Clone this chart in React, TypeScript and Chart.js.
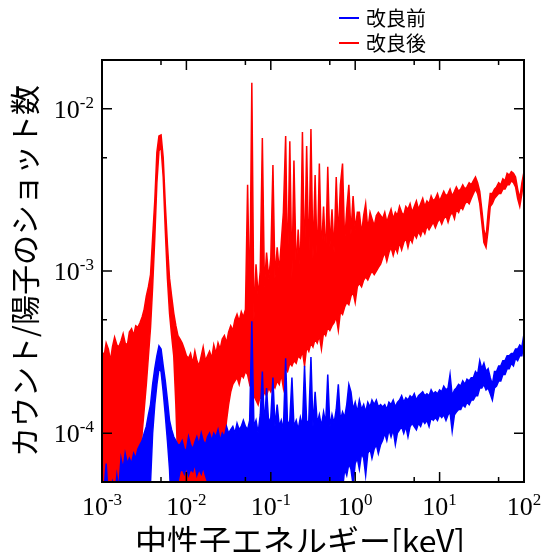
import React, { useEffect, useRef } from "react";
import { Chart, registerables } from "chart.js";

Chart.register(...registerables);

// Energy bins (keV), shared by both spectra
const energyKeV = [
  1.00e-3, 1.06e-3, 1.12e-3, 1.19e-3, 1.26e-3, 1.33e-3, 1.41e-3, 1.50e-3, 1.58e-3, 1.68e-3,
  1.78e-3, 1.88e-3, 2.00e-3, 2.11e-3, 2.24e-3, 2.37e-3, 2.51e-3, 2.66e-3, 2.82e-3, 2.99e-3,
  3.16e-3, 3.35e-3, 3.55e-3, 3.76e-3, 3.98e-3, 4.22e-3, 4.47e-3, 4.73e-3, 5.01e-3, 5.31e-3,
  5.62e-3, 5.96e-3, 6.31e-3, 6.68e-3, 7.08e-3, 7.50e-3, 7.94e-3, 8.41e-3, 8.91e-3, 9.44e-3,
  1.00e-2, 1.06e-2, 1.12e-2, 1.19e-2, 1.26e-2, 1.33e-2, 1.41e-2, 1.50e-2, 1.58e-2, 1.68e-2,
  1.78e-2, 1.88e-2, 2.00e-2, 2.11e-2, 2.24e-2, 2.37e-2, 2.51e-2, 2.66e-2, 2.82e-2, 2.99e-2,
  3.16e-2, 3.35e-2, 3.55e-2, 3.76e-2, 3.98e-2, 4.22e-2, 4.47e-2, 4.73e-2, 5.01e-2, 5.31e-2,
  5.62e-2, 5.96e-2, 6.31e-2, 6.68e-2, 7.08e-2, 7.50e-2, 7.94e-2, 8.41e-2, 8.91e-2, 9.44e-2,
  1.00e-1, 1.06e-1, 1.12e-1, 1.19e-1, 1.26e-1, 1.33e-1, 1.41e-1, 1.50e-1, 1.58e-1, 1.68e-1,
  1.78e-1, 1.88e-1, 2.00e-1, 2.11e-1, 2.24e-1, 2.37e-1, 2.51e-1, 2.66e-1, 2.82e-1, 2.99e-1,
  3.16e-1, 3.35e-1, 3.55e-1, 3.76e-1, 3.98e-1, 4.22e-1, 4.47e-1, 4.73e-1, 5.01e-1, 5.31e-1,
  5.62e-1, 5.96e-1, 6.31e-1, 6.68e-1, 7.08e-1, 7.50e-1, 7.94e-1, 8.41e-1, 8.91e-1, 9.44e-1,
  1.00, 1.06, 1.12, 1.19, 1.26, 1.33, 1.41, 1.50, 1.58, 1.68,
  1.78, 1.88, 2.00, 2.11, 2.24, 2.37, 2.51, 2.66, 2.82, 2.99,
  3.16, 3.35, 3.55, 3.76, 3.98, 4.22, 4.47, 4.73, 5.01, 5.31,
  5.62, 5.96, 6.31, 6.68, 7.08, 7.50, 7.94, 8.41, 8.91, 9.44,
  10.0, 10.6, 11.2, 11.9, 12.6, 13.3, 14.1, 15.0, 15.8, 16.8,
  17.8, 18.8, 20.0, 21.1, 22.4, 23.7, 25.1, 26.6, 28.2, 29.9,
  31.6, 33.5, 35.5, 37.6, 39.8, 42.2, 44.7, 47.3, 50.1, 53.1,
  56.2, 59.6, 63.1, 66.8, 70.8, 75.0, 79.4, 84.1, 89.1, 94.4,
  100.0,
];

// 改良前: upper and lower extent of the noisy spectrum in each bin
const beforeMax = [
  4e-5, 4.5e-5, 6.5e-5, 4e-5, 4.5e-5, 5e-5, 4e-5, 5.5e-5, 4.5e-5, 7e-5,
  6e-5, 7.5e-5, 6.5e-5, 7e-5, 6.5e-5, 7.5e-5, 7e-5, 8e-5, 8.5e-5, 9e-5,
  1.0e-4, 1.1e-4, 1.3e-4, 1.5e-4, 2.0e-4, 2.5e-4, 3.0e-4, 3.45e-4, 3.3e-4, 2.6e-4,
  2.1e-4, 1.6e-4, 1.2e-4, 1.05e-4, 9.5e-5, 9e-5, 8.5e-5, 8.5e-5, 9e-5, 8e-5,
  7.8e-5, 9.5e-5, 8.5e-5, 8e-5, 8.8e-5, 9.5e-5, 8.5e-5, 1.0e-4, 9e-5, 8.5e-5,
  9.5e-5, 1.0e-4, 9e-5, 1.0e-4, 9.5e-5, 1.05e-4, 9e-5, 1.0e-4, 9.5e-5, 1.1e-4,
  1.0e-4, 1.05e-4, 1.1e-4, 1.0e-4, 1.15e-4, 1.05e-4, 1.1e-4, 1.2e-4, 1.1e-4, 1.05e-4,
  1.2e-4, 4.9e-4, 1.1e-4, 1.2e-4, 1.0e-4, 1.3e-4, 2.4e-4, 1.1e-4, 1.9e-4, 1.15e-4,
  1.25e-4, 2.2e-4, 1.1e-4, 1.5e-4, 1.1e-4, 1.2e-4, 1.05e-4, 2.9e-4, 1.1e-4, 1.2e-4,
  2.2e-4, 1.1e-4, 1.2e-4, 1.05e-4, 1.25e-4, 1.1e-4, 2.6e-4, 1.15e-4, 1.2e-4, 2.95e-4,
  1.1e-4, 1.8e-4, 1.15e-4, 1.3e-4, 1.1e-4, 1.35e-4, 1.15e-4, 2.3e-4, 1.1e-4, 1.3e-4,
  1.15e-4, 1.4e-4, 2.0e-4, 1.2e-4, 1.35e-4, 1.25e-4, 1.5e-4, 2.0e-4, 1.8e-4, 1.4e-4,
  1.55e-4, 1.35e-4, 1.6e-4, 1.4e-4, 1.5e-4, 1.35e-4, 1.55e-4, 1.45e-4, 1.6e-4, 1.5e-4,
  1.6e-4, 1.45e-4, 1.5e-4, 1.45e-4, 1.5e-4, 1.4e-4, 1.55e-4, 1.5e-4, 1.6e-4, 1.45e-4,
  1.55e-4, 1.6e-4, 1.7e-4, 1.55e-4, 1.65e-4, 1.6e-4, 1.7e-4, 1.65e-4, 1.75e-4, 1.6e-4,
  1.7e-4, 1.75e-4, 1.8e-4, 1.7e-4, 1.75e-4, 1.7e-4, 1.85e-4, 1.75e-4, 1.8e-4, 1.75e-4,
  1.85e-4, 1.8e-4, 1.95e-4, 1.85e-4, 1.9e-4, 2.3e-4, 1.7e-4, 1.85e-4, 1.9e-4, 2.0e-4,
  1.95e-4, 2.1e-4, 2.0e-4, 2.15e-4, 2.1e-4, 2.2e-4, 2.2e-4, 2.4e-4, 2.3e-4, 2.8e-4,
  2.5e-4, 2.7e-4, 2.4e-4, 2.5e-4, 2.2e-4, 2.0e-4, 2.4e-4, 2.4e-4, 2.6e-4, 2.6e-4,
  2.8e-4, 2.8e-4, 3.0e-4, 3.0e-4, 3.1e-4, 3.1e-4, 3.3e-4, 3.3e-4, 3.5e-4, 3.4e-4,
  4.1e-4,
];
const beforeMin = [
  3e-5, 3e-5, 3e-5, 3e-5, 3e-5, 3e-5, 3e-5, 3e-5, 3e-5, 3e-5,
  3e-5, 3e-5, 3e-5, 3e-5, 3e-5, 3e-5, 3e-5, 3e-5, 3e-5, 3e-5,
  3e-5, 3e-5, 3e-5, 5e-5, 1.0e-4, 1.5e-4, 2.0e-4, 2.5e-4, 2.4e-4, 1.8e-4,
  1.3e-4, 9e-5, 6e-5, 3e-5, 3e-5, 4e-5, 5e-5, 5.8e-5, 6e-5, 5.6e-5,
  6.2e-5, 5.5e-5, 6e-5, 5.8e-5, 6.5e-5, 5.5e-5, 6e-5, 5.6e-5, 6.2e-5, 5.5e-5,
  5e-5, 3e-5, 3e-5, 3e-5, 3e-5, 3e-5, 3e-5, 3e-5, 3e-5, 3e-5,
  3e-5, 3e-5, 3e-5, 3e-5, 3e-5, 3e-5, 3e-5, 3e-5, 3e-5, 3e-5,
  3e-5, 3e-5, 3e-5, 3e-5, 3e-5, 3e-5, 3e-5, 3e-5, 3e-5, 3e-5,
  3e-5, 3e-5, 3e-5, 3e-5, 3e-5, 3e-5, 3e-5, 3e-5, 3e-5, 3e-5,
  3e-5, 3e-5, 3e-5, 3e-5, 3e-5, 3e-5, 3e-5, 3e-5, 3e-5, 3e-5,
  3e-5, 3e-5, 3e-5, 3e-5, 3e-5, 3e-5, 3e-5, 3e-5, 3e-5, 3e-5,
  3e-5, 3e-5, 4.5e-5, 5.5e-5, 4.5e-5, 6e-5, 5.5e-5, 6.5e-5, 6e-5, 4.8e-5,
  6.5e-5, 7e-5, 6e-5, 7.5e-5, 7e-5, 5.5e-5, 7.5e-5, 8e-5, 7e-5, 8e-5,
  8.5e-5, 7.5e-5, 8.5e-5, 9e-5, 1.0e-4, 9e-5, 1.05e-4, 9.5e-5, 1.05e-4, 8.5e-5,
  1.0e-4, 1.05e-4, 1.1e-4, 1.0e-4, 1.1e-4, 9.5e-5, 1.1e-4, 1.15e-4, 1.1e-4, 1.05e-4,
  1.15e-4, 1.1e-4, 1.2e-4, 1.15e-4, 1.2e-4, 1.1e-4, 1.25e-4, 1.2e-4, 1.25e-4, 1.2e-4,
  1.3e-4, 1.25e-4, 1.3e-4, 1.2e-4, 1.3e-4, 1.35e-4, 1.03e-4, 1.3e-4, 1.35e-4, 1.4e-4,
  1.4e-4, 1.5e-4, 1.45e-4, 1.55e-4, 1.5e-4, 1.6e-4, 1.6e-4, 1.7e-4, 1.7e-4, 1.9e-4,
  1.9e-4, 2.0e-4, 1.85e-4, 1.9e-4, 1.75e-4, 1.6e-4, 1.9e-4, 1.95e-4, 2.1e-4, 2.1e-4,
  2.3e-4, 2.3e-4, 2.5e-4, 2.5e-4, 2.7e-4, 2.6e-4, 2.9e-4, 2.8e-4, 3.0e-4, 3.0e-4,
  3.7e-4,
];

// 改良後: upper and lower extent of the noisy spectrum in each bin
const afterMax = [
  3.2e-4, 3.0e-4, 3.6e-4, 3.3e-4, 2.8e-4, 3.4e-4, 3.9e-4, 3.5e-4, 3.4e-4, 3.7e-4,
  4.1e-4, 3.6e-4, 3.5e-4, 4.2e-4, 4.4e-4, 4.0e-4, 4.6e-4, 4.5e-4, 4.8e-4, 5.2e-4,
  5.8e-4, 7.0e-4, 8.0e-4, 9.5e-4, 1.6e-3, 2.7e-3, 5.4e-3, 6.8e-3, 6.9e-3, 5.0e-3,
  2.6e-3, 1.45e-3, 9.0e-4, 7.0e-4, 5.5e-4, 4.6e-4, 4.0e-4, 3.8e-4, 3.6e-4, 3.3e-4,
  3.0e-4, 2.9e-4, 3.1e-4, 2.7e-4, 3.2e-4, 2.8e-4, 2.6e-4, 3.0e-4, 3.4e-4, 2.8e-4,
  3.0e-4, 3.2e-4, 2.9e-4, 3.5e-4, 3.1e-4, 3.6e-4, 3.3e-4, 3.8e-4, 4.0e-4, 3.6e-4,
  4.2e-4, 4.6e-4, 4.3e-4, 5.0e-4, 5.4e-4, 4.9e-4, 5.6e-4, 5.2e-4, 5.8e-4, 3.4e-3,
  6.0e-4, 1.45e-2, 5.0e-4, 1.1e-3, 7.0e-4, 1.0e-3, 6.6e-3, 8.0e-4, 1.3e-3, 9.0e-4,
  1.2e-3, 4.5e-3, 9.0e-4, 1.4e-3, 1.0e-3, 1.5e-3, 2.3e-3, 6.8e-3, 1.0e-3, 6.3e-3,
  9.0e-4, 4.8e-3, 1.0e-3, 1.8e-3, 1.0e-3, 7.2e-3, 1.1e-3, 5.9e-3, 1.1e-3, 7.5e-3,
  1.2e-3, 3.9e-3, 1.1e-3, 4.6e-3, 1.3e-3, 2.5e-3, 1.2e-3, 4.4e-3, 1.4e-3, 2.4e-3,
  1.3e-3, 3.8e-3, 1.6e-3, 3.4e-3, 4.6e-3, 1.5e-3, 2.4e-3, 3.4e-3, 1.7e-3, 2.9e-3,
  1.8e-3, 2.3e-3, 2.3e-3, 1.7e-3, 2.2e-3, 2.6e-3, 1.8e-3, 2.3e-3, 2.1e-3, 1.9e-3,
  2.2e-3, 2.3e-3, 2.2e-3, 2.1e-3, 2.3e-3, 2.0e-3, 2.2e-3, 2.4e-3, 2.1e-3, 2.3e-3,
  2.2e-3, 2.5e-3, 2.3e-3, 2.2e-3, 2.5e-3, 2.4e-3, 2.6e-3, 2.3e-3, 2.5e-3, 2.7e-3,
  2.4e-3, 2.6e-3, 2.8e-3, 2.5e-3, 2.7e-3, 2.6e-3, 2.9e-3, 2.7e-3, 2.8e-3, 3.0e-3,
  2.7e-3, 2.9e-3, 3.1e-3, 2.9e-3, 3.0e-3, 3.2e-3, 2.9e-3, 3.1e-3, 3.3e-3, 3.1e-3,
  3.2e-3, 3.4e-3, 3.2e-3, 3.3e-3, 3.5e-3, 3.4e-3, 3.6e-3, 3.8e-3, 3.5e-3, 3.1e-3,
  2.4e-3, 1.8e-3, 1.6e-3, 2.3e-3, 3.0e-3, 3.0e-3, 3.2e-3, 3.3e-3, 3.5e-3, 3.4e-3,
  3.7e-3, 3.6e-3, 4.0e-3, 3.9e-3, 4.1e-3, 4.0e-3, 3.8e-3, 3.2e-3, 2.8e-3, 3.5e-3,
  4.1e-3,
];
const afterMin = [
  3e-5, 3e-5, 3e-5, 3e-5, 3e-5, 3e-5, 3e-5, 3e-5, 3e-5, 3e-5,
  3e-5, 3e-5, 3e-5, 3e-5, 3e-5, 3e-5, 3e-5, 3e-5, 6e-5, 1.0e-4,
  1.4e-4, 2.0e-4, 3.0e-4, 4.5e-4, 8.0e-4, 1.6e-3, 3.5e-3, 5.5e-3, 5.8e-3, 3.8e-3,
  1.8e-3, 9.0e-4, 5.5e-4, 4.0e-4, 3.0e-4, 1.5e-4, 6e-5, 3e-5, 3e-5, 3e-5,
  3e-5, 3e-5, 3e-5, 3e-5, 3e-5, 3e-5, 3e-5, 3e-5, 3e-5, 3e-5,
  3e-5, 3e-5, 3e-5, 3e-5, 3e-5, 3e-5, 3e-5, 6e-5, 9e-5, 1.2e-4,
  1.5e-4, 1.8e-4, 2.0e-4, 2.1e-4, 2.2e-4, 2.0e-4, 2.3e-4, 2.2e-4, 2.4e-4, 2.3e-4,
  2.0e-4, 2.2e-4, 1.7e-4, 1.6e-4, 1.5e-4, 1.7e-4, 1.6e-4, 1.8e-4, 1.7e-4, 1.9e-4,
  1.8e-4, 2.0e-4, 1.9e-4, 2.1e-4, 2.0e-4, 2.3e-4, 1.9e-4, 2.5e-4, 2.4e-4, 2.7e-4,
  2.6e-4, 2.8e-4, 2.7e-4, 3.0e-4, 2.9e-4, 3.2e-4, 2.6e-4, 3.4e-4, 3.2e-4, 3.6e-4,
  3.4e-4, 3.8e-4, 3.6e-4, 4.0e-4, 3.3e-4, 4.2e-4, 4.0e-4, 4.5e-4, 4.3e-4, 4.6e-4,
  4.8e-4, 5.2e-4, 4.3e-4, 5.6e-4, 5.4e-4, 6.0e-4, 6.4e-4, 6.2e-4, 7.0e-4, 7.4e-4,
  6.4e-4, 8.0e-4, 8.4e-4, 8.0e-4, 8.8e-4, 9.2e-4, 8.8e-4, 9.5e-4, 1.0e-3, 9.5e-4,
  1.0e-3, 1.05e-3, 1.1e-3, 1.2e-3, 1.3e-3, 1.15e-3, 1.3e-3, 1.4e-3, 1.25e-3, 1.4e-3,
  1.3e-3, 1.5e-3, 1.35e-3, 1.5e-3, 1.6e-3, 1.4e-3, 1.6e-3, 1.5e-3, 1.7e-3, 1.6e-3,
  1.75e-3, 1.65e-3, 1.8e-3, 1.7e-3, 1.9e-3, 1.8e-3, 1.9e-3, 2.0e-3, 1.85e-3, 2.0e-3,
  2.1e-3, 1.95e-3, 2.1e-3, 2.2e-3, 2.0e-3, 2.2e-3, 2.3e-3, 2.1e-3, 2.4e-3, 2.3e-3,
  2.5e-3, 2.4e-3, 2.6e-3, 2.7e-3, 2.6e-3, 2.8e-3, 3.0e-3, 3.2e-3, 3.0e-3, 2.6e-3,
  2.0e-3, 1.5e-3, 1.4e-3, 1.8e-3, 2.5e-3, 2.6e-3, 2.8e-3, 2.9e-3, 3.0e-3, 3.0e-3,
  3.2e-3, 3.2e-3, 3.4e-3, 3.4e-3, 3.6e-3, 3.5e-3, 3.3e-3, 2.8e-3, 2.5e-3, 3.0e-3,
  3.8e-3,
];

const seriesLabels = ["改良前", "改良後"];
const seriesColors = ["#0000ff", "#ff0000"];

// Axis ticks
const xMajorTicks = [1e-3, 1e-2, 1e-1, 1, 10, 100];
const xMajorExponents = ["-3", "-2", "-1", "0", "1", "2"];
const xMinorTicks = [5e-3, 5e-2, 5e-1, 5, 50];
const yMajorTicks = [1e-4, 1e-3, 1e-2];
const yMajorExponents = ["-4", "-3", "-2"];
const yMinorTicks = [5e-4, 5e-3];

const xTitle = "中性子エネルギー[keV]";
const yTitle = "カウント/陽子のショット数";

const SERIF = "'Liberation Serif', 'DejaVu Serif', serif";
const CJK = "'Noto Sans CJK JP', 'Noto Sans', sans-serif";

function drawPow(ctx: CanvasRenderingContext2D, exp: string, x: number, y: number, align: "center" | "right") {
  ctx.textAlign = "left";
  ctx.textBaseline = "alphabetic";
  ctx.font = `26px ${SERIF}`;
  const w1 = ctx.measureText("10").width;
  ctx.font = `17px ${SERIF}`;
  const w2 = ctx.measureText(exp).width;
  const total = w1 + w2;
  const start = align === "center" ? x - total / 2 : x - total;
  ctx.font = `26px ${SERIF}`;
  ctx.fillText("10", start, y);
  ctx.font = `17px ${SERIF}`;
  ctx.fillText(exp, start + w1, y - 10);
}

const decorPlugin = {
  id: "decor",
  afterDatasetsDraw(chart: any) {
    const { ctx, chartArea: a, scales } = chart;
    const xs = scales.x;
    const ys = scales.y;
    ctx.save();
    ctx.fillStyle = "#000";
    ctx.strokeStyle = "#000";

    ctx.lineWidth = 1.5;
    const major = 10;
    const minor = 5;
    const tickX = (v: number, len: number) => {
      const px = xs.getPixelForValue(v);
      ctx.beginPath();
      ctx.moveTo(px, a.bottom);
      ctx.lineTo(px, a.bottom - len);
      ctx.moveTo(px, a.top);
      ctx.lineTo(px, a.top + len);
      ctx.stroke();
    };
    const tickY = (v: number, len: number) => {
      const py = ys.getPixelForValue(v);
      ctx.beginPath();
      ctx.moveTo(a.left, py);
      ctx.lineTo(a.left + len, py);
      ctx.moveTo(a.right, py);
      ctx.lineTo(a.right - len, py);
      ctx.stroke();
    };
    xMajorTicks.forEach((v) => tickX(v, major));
    xMinorTicks.forEach((v) => tickX(v, minor));
    yMajorTicks.forEach((v) => tickY(v, major));
    yMinorTicks.forEach((v) => tickY(v, minor));

    ctx.lineWidth = 2;
    ctx.strokeRect(a.left, a.top, a.right - a.left, a.bottom - a.top);

    xMajorTicks.forEach((v, i) => {
      drawPow(ctx, xMajorExponents[i], xs.getPixelForValue(v), a.bottom + 33, "center");
    });
    yMajorTicks.forEach((v, i) => {
      drawPow(ctx, yMajorExponents[i], a.left - 8, ys.getPixelForValue(v) + 9, "right");
    });

    ctx.font = `32px ${CJK}`;
    ctx.textAlign = "center";
    ctx.textBaseline = "alphabetic";
    ctx.fillText(xTitle, 300, 553);

    ctx.save();
    ctx.translate(25, (a.top + a.bottom) / 2);
    ctx.rotate(-Math.PI / 2);
    ctx.font = `30px ${CJK}`;
    ctx.textAlign = "center";
    ctx.textBaseline = "middle";
    ctx.fillText(yTitle, 0, 0);
    ctx.restore();

    seriesLabels.forEach((label, i) => {
      const ly = 18 + 25 * i;
      ctx.strokeStyle = seriesColors[i];
      ctx.lineWidth = 2;
      ctx.beginPath();
      ctx.moveTo(339, ly);
      ctx.lineTo(359, ly);
      ctx.stroke();
      ctx.fillStyle = "#000";
      ctx.font = `20px ${CJK}`;
      ctx.textAlign = "left";
      ctx.textBaseline = "middle";
      ctx.fillText(label, 366, ly);
    });
    ctx.restore();
  },
};

export default function App() {
  const ref = useRef<HTMLCanvasElement>(null);
  useEffect(() => {
    document.body.style.margin = "0";
    const canvas = ref.current;
    if (!canvas) return;
    const bands = [
      [beforeMax, beforeMin],
      [afterMax, afterMin],
    ];
    const datasets: any[] = [];
    bands.forEach(([hi, lo], i) => {
      datasets.push({
        label: seriesLabels[i],
        data: energyKeV.map((e, j) => ({ x: e, y: hi[j] })),
        borderColor: seriesColors[i],
        backgroundColor: seriesColors[i],
        borderWidth: 1.5,
        pointRadius: 0,
        tension: 0,
        fill: "+1",
        clip: 0,
      });
      datasets.push({
        label: seriesLabels[i] + " (min)",
        data: energyKeV.map((e, j) => ({ x: e, y: lo[j] })),
        borderColor: seriesColors[i],
        backgroundColor: seriesColors[i],
        borderWidth: 1.5,
        pointRadius: 0,
        tension: 0,
        fill: false,
        clip: 0,
      });
    });
    const chart = new Chart(canvas, {
      type: "line",
      data: { datasets },
      options: {
        responsive: false,
        animation: false,
        events: [],
        layout: { padding: { left: 102, right: 23, top: 60, bottom: 70 } },
        scales: {
          x: { type: "logarithmic", min: 1e-3, max: 100, display: false },
          y: { type: "logarithmic", min: 5e-5, max: 2e-2, display: false },
        },
        plugins: {
          legend: { display: false },
          tooltip: { enabled: false },
        },
      },
      plugins: [decorPlugin],
    } as any);
    return () => chart.destroy();
  }, []);
  return (
    <div style={{ width: 547, height: 552 }}>
      <canvas ref={ref} width={547} height={552} style={{ display: "block" }} />
    </div>
  );
}
